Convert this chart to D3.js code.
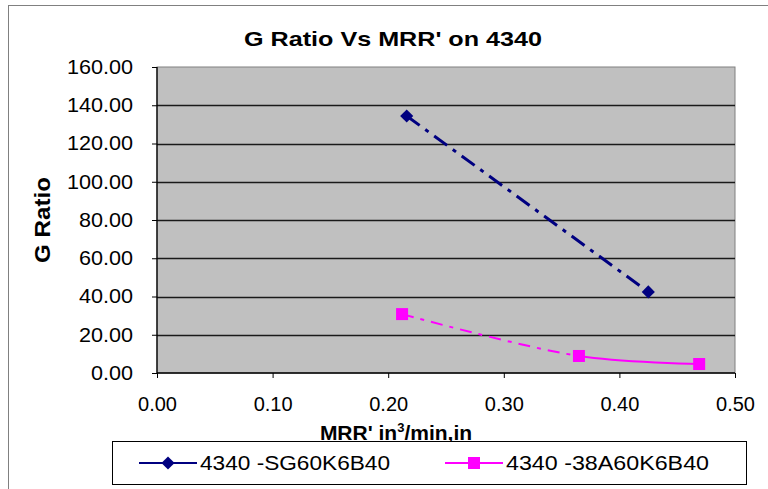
<!DOCTYPE html>
<html>
<head>
<meta charset="utf-8">
<script src="https://cdn.jsdelivr.net/npm/d3@7/dist/d3.min.js"></script>
<style>
  html, body { margin: 0; padding: 0; background: #fff; }
  svg { display: block; font-family: "Liberation Sans", Arial, sans-serif; }
</style>
</head>
<body>
<svg id="chart" width="768" height="489"></svg>
<script>
// G Ratio vs MRR' for two grinding wheels on 4340 steel
const chartTitle = "G Ratio Vs MRR' on 4340";
const yTitle = "G Ratio";
const seriesNames = ["4340 -SG60K6B40", "4340 -38A60K6B40"];
const sgMRR = [0.216, 0.425];
const sgGRatio = [134.4, 42.4];
const aMRR = [0.212, 0.365, 0.469];
const aGRatio = [30.8, 8.9, 4.7];
const xTicks = [0, 0.1, 0.2, 0.3, 0.4, 0.5];
const yTicks = [0, 20, 40, 60, 80, 100, 120, 140, 160];

const svg = d3.select("#chart");
const plot = { left: 157, right: 735, top: 67, bottom: 373 };

// chart frame
svg.append("rect")
  .attr("x", 8.5).attr("y", 5.5).attr("width", 800).attr("height", 500)
  .attr("fill", "#fff").attr("stroke", "#808080").attr("stroke-width", 1);

const x = d3.scaleLinear().domain([0, 0.5]).range([plot.left, plot.right]);
const y = d3.scaleLinear().domain([0, 160]).range([plot.bottom, plot.top]);

// plot area
svg.append("rect")
  .attr("x", plot.left).attr("y", plot.top)
  .attr("width", plot.right - plot.left).attr("height", plot.bottom - plot.top)
  .attr("fill", "#c0c0c0").attr("stroke", "#808080").attr("stroke-width", 1);

// horizontal gridlines
svg.append("g").selectAll("line")
  .data(yTicks.filter(d => d > 0 && d < 160))
  .join("line")
  .attr("x1", plot.left).attr("x2", plot.right)
  .attr("y1", d => Math.round(y(d)) + 0.5).attr("y2", d => Math.round(y(d)) + 0.5)
  .attr("stroke", "#1a1a1a").attr("stroke-width", 1.3);

// axes
const fmt = d3.format(".2f");
const yAxis = d3.axisLeft(y).tickValues(yTicks).tickSize(5).tickPadding(19).tickFormat(fmt);
const xAxis = d3.axisBottom(x).tickValues(xTicks).tickSize(5).tickPadding(19).tickFormat(fmt);

const gy = svg.append("g").attr("transform", `translate(${plot.left},0)`).call(yAxis);
const gx = svg.append("g").attr("transform", `translate(0,${plot.bottom})`).call(xAxis);
[gy, gx].forEach(g => {
  g.select(".domain").attr("stroke", "#000").attr("stroke-width", 1.3);
  g.selectAll(".tick line").attr("stroke", "#000");
  g.selectAll(".tick text").attr("fill", "#000")
    .style("font-size", "20px").style("font-family", "Liberation Sans, Arial, sans-serif");
});
// value labels on the G Ratio axis are drawn slightly wide
gy.selectAll(".tick text")
  .attr("textLength", d => ((fmt(d).length - 1) * 11.12 + 5.56) * 1.08)
  .attr("lengthAdjust", "spacingAndGlyphs");
gx.select(".domain").attr("d", `M${plot.left},0H${plot.right}`);
gy.select(".domain").attr("d", `M0,${plot.top}V${plot.bottom}`);

// series lines
const sgData = sgMRR.map((v, i) => [v, sgGRatio[i]]);
const aData = aMRR.map((v, i) => [v, aGRatio[i]]);

const straight = d3.line().x(d => x(d[0])).y(d => y(d[1]));
const smooth = d3.line().x(d => x(d[0])).y(d => y(d[1])).curve(d3.curveCatmullRom.alpha(0.5));

svg.append("path").attr("d", straight(sgData))
  .attr("fill", "none").attr("stroke", "#000080").attr("stroke-width", 3)
  .attr("stroke-dasharray", "16,7,4,7");

// the 38A curve: dash-dot up to its middle point, solid after it
const defs = svg.append("defs");
defs.append("clipPath").attr("id", "clipA1").append("rect")
  .attr("x", 0).attr("y", 0).attr("width", x(aMRR[1])).attr("height", 489);
defs.append("clipPath").attr("id", "clipA2").append("rect")
  .attr("x", x(aMRR[1])).attr("y", 0).attr("width", 768).attr("height", 489);

svg.append("path").attr("d", smooth(aData)).attr("clip-path", "url(#clipA1)")
  .attr("fill", "none").attr("stroke", "#ff00ff").attr("stroke-width", 2)
  .attr("stroke-dasharray", "12,7,4,7");
svg.append("path").attr("d", smooth(aData)).attr("clip-path", "url(#clipA2)")
  .attr("fill", "none").attr("stroke", "#ff00ff").attr("stroke-width", 2);

// markers
const diamond = d3.symbol().type(d3.symbolDiamond2).size(110);
svg.append("g").selectAll("path").data(sgData).join("path")
  .attr("d", diamond)
  .attr("transform", d => `translate(${x(d[0])},${y(d[1])})`)
  .attr("fill", "#000080");

svg.append("g").selectAll("rect").data(aData).join("rect")
  .attr("x", d => x(d[0]) - 6).attr("y", d => y(d[1]) - 6)
  .attr("width", 12).attr("height", 12)
  .attr("fill", "#ff00ff");

// titles
svg.append("text").attr("x", 393).attr("y", 46).attr("text-anchor", "middle")
  .style("font-size", "21px").style("font-weight", "bold")
  .attr("textLength", 298).attr("lengthAdjust", "spacingAndGlyphs")
  .text(chartTitle);

svg.append("text")
  .attr("transform", `translate(50,220) rotate(-90)`)
  .attr("text-anchor", "middle")
  .style("font-size", "22px").style("font-weight", "bold")
  .attr("textLength", 86).attr("lengthAdjust", "spacingAndGlyphs")
  .text(yTitle);

const xt = svg.append("text").attr("x", 396).attr("y", 440).attr("text-anchor", "middle")
  .style("font-size", "21px").style("font-weight", "bold");
xt.append("tspan").text("MRR' in");
xt.append("tspan").attr("dy", -8).style("font-size", "13px").text("3");
xt.append("tspan").attr("dy", 8).text("/min,in");

// legend
svg.append("rect").attr("x", 112.5).attr("y", 441.5).attr("width", 634).attr("height", 43)
  .attr("fill", "#fff").attr("stroke", "#000").attr("stroke-width", 1);

const legendItems = [
  { name: seriesNames[0], color: "#000080", x0: 139, shape: "diamond", len: 190 },
  { name: seriesNames[1], color: "#ff00ff", x0: 445, shape: "square", len: 203 }
];
const ly = 463;
legendItems.forEach(it => {
  svg.append("line").attr("x1", it.x0).attr("x2", it.x0 + 58)
    .attr("y1", ly).attr("y2", ly).attr("stroke", it.color).attr("stroke-width", 2);
  if (it.shape === "diamond") {
    svg.append("path").attr("d", diamond)
      .attr("transform", `translate(${it.x0 + 29},${ly})`).attr("fill", it.color);
  } else {
    svg.append("rect").attr("x", it.x0 + 23).attr("y", ly - 6)
      .attr("width", 12).attr("height", 12).attr("fill", it.color);
  }
  svg.append("text").attr("x", it.x0 + 61).attr("y", ly + 7)
    .style("font-size", "20px")
    .attr("textLength", it.len).attr("lengthAdjust", "spacingAndGlyphs")
    .text(it.name);
});
</script>
</body>
</html>
